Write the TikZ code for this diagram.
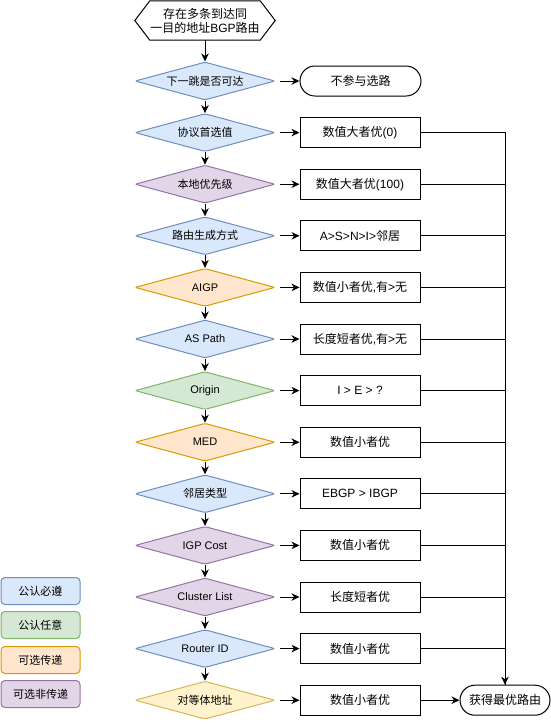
\documentclass[tikz,border=0pt]{standalone}
\usepackage{fontspec}
\setmainfont{Liberation Sans}
\newfontfamily\cjk{Noto Sans CJK SC}
\usetikzlibrary{shapes.geometric,arrows.meta}
\definecolor{bfill}{HTML}{DAE8FC}\definecolor{bdraw}{HTML}{6C8EBF}
\definecolor{gfill}{HTML}{D5E8D4}\definecolor{gdraw}{HTML}{82B366}
\definecolor{ofill}{HTML}{FFE6CC}\definecolor{odraw}{HTML}{D79B00}
\definecolor{pfill}{HTML}{E1D5E7}\definecolor{pdraw}{HTML}{9673A6}
\definecolor{yfill}{HTML}{FFF2CC}\definecolor{ydraw}{HTML}{D6B656}
\tikzset{
  dia/.style={diamond, aspect=3.684, minimum width=140pt, minimum height=38pt, inner sep=0pt,
    font=\fontsize{11}{13}\selectfont, draw, line width=1pt, rounded corners=2pt},
  cblue/.style={fill=bfill, draw=bdraw},
  cgreen/.style={fill=gfill, draw=gdraw},
  corange/.style={fill=ofill, draw=odraw},
  cpurple/.style={fill=pfill, draw=pdraw},
  cyellow/.style={fill=yfill, draw=ydraw},
  resbox/.style={rectangle, draw=black, fill=white, minimum width=120pt, minimum height=30pt,
    inner sep=0pt, font=\fontsize{12}{14}\selectfont, line width=1pt},
  term/.style={rectangle, rounded corners=15pt, draw=black, fill=white, minimum height=30pt,
    inner sep=0pt, font=\fontsize{12}{14}\selectfont, line width=1pt},
  legbox/.style={rectangle, rounded corners=4pt, minimum width=79pt, minimum height=27pt,
    inner sep=0pt, font=\fontsize{11}{13}\selectfont, line width=1pt},
  arr/.style={-{Stealth[length=8pt,width=7.5pt,inset=2.5pt]}, line width=1pt, draw=black},
  conn/.style={line width=1pt, draw=black}
}
\begin{document}
\begin{tikzpicture}[x=1pt,y=-1pt]
\useasboundingbox (0,0) rectangle (551,724);
% start hexagon
\node[rectangle, minimum width=140pt, minimum height=39pt, inner sep=0pt, align=center,
  font=\fontsize{12}{14}\selectfont] (start) at (205,20.5) {{\cjk 存在多条到达同}\\{\cjk 一目的地址}BGP{\cjk 路由}};
\draw[line width=1pt] (start.west) -- ([xshift=15pt]start.north west) -- ([xshift=-15pt]start.north east)
  -- (start.east) -- ([xshift=-15pt]start.south east) -- ([xshift=15pt]start.south west) -- cycle;
% diamonds
\node[dia,cblue]   (d1)  at (205, 81.0) {\cjk 下一跳是否可达};
\node[dia,cblue]   (d2)  at (205,132.6) {\cjk 协议首选值};
\node[dia,cpurple] (d3)  at (205,184.2) {\cjk 本地优先级};
\node[dia,cblue]   (d4)  at (205,235.8) {\cjk 路由生成方式};
\node[dia,corange] (d5)  at (205,287.4) {AIGP};
\node[dia,cblue]   (d6)  at (205,339.0) {AS Path};
\node[dia,cgreen]  (d7)  at (205,390.6) {Origin};
\node[dia,corange] (d8)  at (205,442.2) {MED};
\node[dia,cblue]   (d9)  at (205,493.8) {\cjk 邻居类型};
\node[dia,cpurple] (d10) at (205,545.4) {IGP Cost};
\node[dia,cpurple] (d11) at (205,597.0) {Cluster List};
\node[dia,cblue]   (d12) at (205,648.6) {Router ID};
\node[dia,cyellow] (d13) at (205,700.2) {\cjk 对等体地址};
% results
\node[term, minimum width=121pt] (r1) at (360.5,81.0) {\cjk 不参与选路};
\node[resbox] (r2)  at (360,132.6) {{\cjk 数值大者优}(0)};
\node[resbox] (r3)  at (360,184.2) {{\cjk 数值大者优}(100)};
\node[resbox] (r4)  at (360,235.8) {A>S>N>I>{\cjk 邻居}};
\node[resbox] (r5)  at (360,287.4) {{\cjk 数值小者优},{\cjk 有}>{\cjk 无}};
\node[resbox] (r6)  at (360,339.0) {{\cjk 长度短者优},{\cjk 有}>{\cjk 无}};
\node[resbox] (r7)  at (360,390.6) {I > E > ?};
\node[resbox] (r8)  at (360,442.2) {\cjk 数值小者优};
\node[resbox] (r9)  at (360,493.8) {EBGP > IBGP};
\node[resbox] (r10) at (360,545.4) {\cjk 数值小者优};
\node[resbox] (r11) at (360,597.0) {\cjk 长度短者优};
\node[resbox] (r12) at (360,648.6) {\cjk 数值小者优};
\node[resbox] (r13) at (360,700.2) {\cjk 数值小者优};
\node[term, minimum width=90pt] (fin) at (505,700.2) {\cjk 获得最优路由};
% legend
\node[legbox,cblue]   (l1) at (40.5,591) {\cjk 公认必遵};
\node[legbox,cgreen]  (l2) at (40.5,625) {\cjk 公认任意};
\node[legbox,corange] (l3) at (40.5,660) {\cjk 可选传递};
\node[legbox,cpurple] (l4) at (40.5,694) {\cjk 可选非传递};
% connectors
\draw[arr] (start.south) -- (d1.north);
\foreach \i in {1,...,12}{
  \pgfmathtruncatemacro{\j}{\i+1}
  \draw[arr] (d\i.south) -- (d\j.north);
}
\foreach \i in {1,...,13}{
  \draw[arr, shorten <=4pt] (d\i.east) -- (r\i.west);
}
\foreach \i in {2,...,11}{
  \draw[conn] (r\i.east) -| (fin.north);
}
\draw[arr] (r12.east) -| (fin.north);
\draw[arr] (r13.east) -- (fin.west);
\end{tikzpicture}
\end{document}
